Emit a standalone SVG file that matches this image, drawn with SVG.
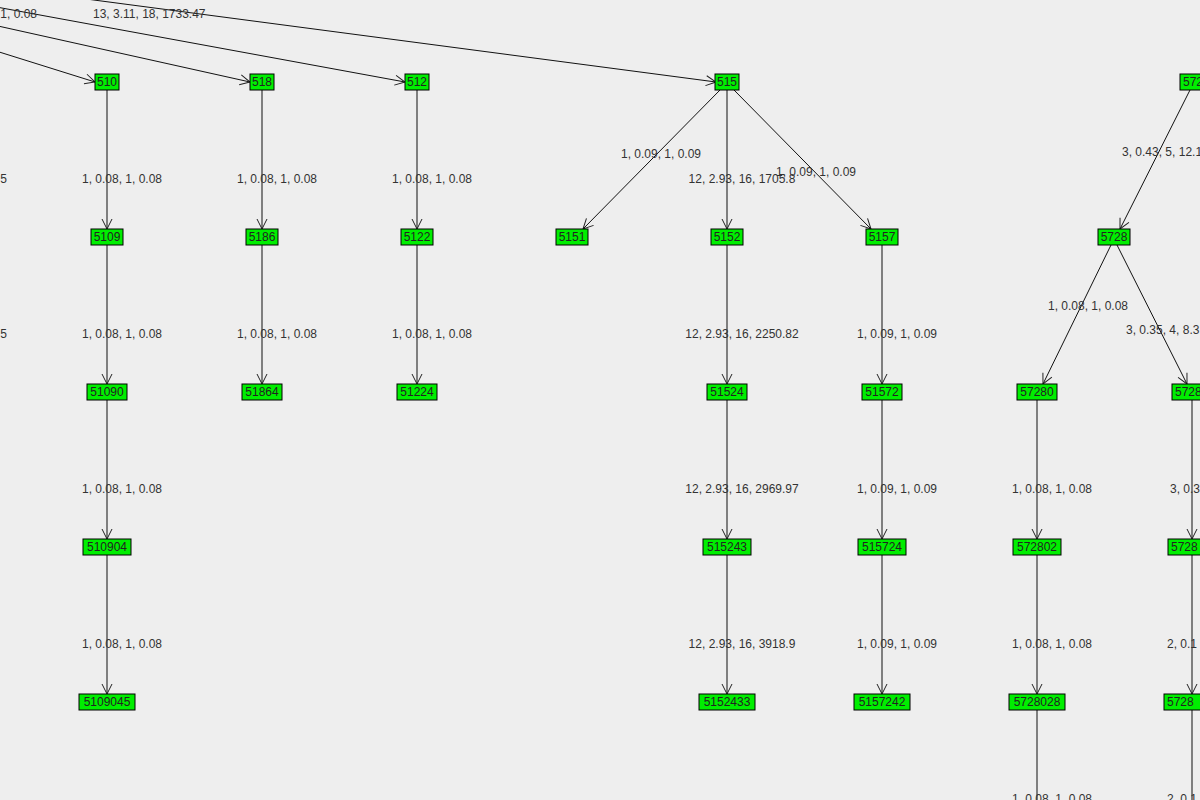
<svg xmlns="http://www.w3.org/2000/svg" width="1200" height="800" viewBox="0 0 1200 800">
<style>
.n rect{fill:#00ee00;stroke:#000;stroke-width:1}
.n text{font-family:"Liberation Sans",Arial,sans-serif;font-size:12px;fill:#222;text-anchor:middle}
.e line{stroke:#111;stroke-width:1;marker-end:url(#a)}
.l{font-family:"Liberation Sans",Arial,sans-serif;font-size:12px;fill:#333}
.c{text-anchor:middle}
</style>
<defs><marker id="a" markerUnits="userSpaceOnUse" markerWidth="14" markerHeight="14" refX="11" refY="6" orient="auto" overflow="visible"><path d="M1,1 L11,6 L1,11" fill="none" stroke="#222" stroke-width="1"/></marker></defs>
<rect width="1200" height="800" fill="#eeeeee"/>
<g id="connectors" class="e">
<line x1="-20" y1="46" x2="95" y2="82"/>
<line x1="-20" y1="22" x2="250" y2="82"/>
<line x1="-20" y1="4" x2="405" y2="82"/>
<line x1="-20" y1="-15" x2="716" y2="82"/>
<line x1="107" y1="90" x2="107" y2="229"/>
<line x1="107" y1="245" x2="107" y2="384"/>
<line x1="107" y1="400" x2="107" y2="539"/>
<line x1="107" y1="555" x2="107" y2="694"/>
<line x1="262" y1="90" x2="262" y2="229"/>
<line x1="262" y1="245" x2="262" y2="384"/>
<line x1="417" y1="90" x2="417" y2="229"/>
<line x1="417" y1="245" x2="417" y2="384"/>
<line x1="720" y1="90" x2="583" y2="229"/>
<line x1="727" y1="90" x2="727" y2="229"/>
<line x1="734" y1="90" x2="871" y2="229"/>
<line x1="727" y1="245" x2="727" y2="384"/>
<line x1="727" y1="400" x2="727" y2="539"/>
<line x1="727" y1="555" x2="727" y2="694"/>
<line x1="882" y1="245" x2="882" y2="384"/>
<line x1="882" y1="400" x2="882" y2="539"/>
<line x1="882" y1="555" x2="882" y2="694"/>
<line x1="1190" y1="90" x2="1120" y2="229"/>
<line x1="1111" y1="245" x2="1043" y2="384"/>
<line x1="1117" y1="245" x2="1187" y2="384"/>
<line x1="1037" y1="400" x2="1037" y2="539"/>
<line x1="1037" y1="555" x2="1037" y2="694"/>
<line x1="1037" y1="710" x2="1037" y2="849"/>
<line x1="1192" y1="400" x2="1192" y2="539"/>
<line x1="1192" y1="555" x2="1192" y2="694"/>
<line x1="1192" y1="710" x2="1192" y2="849"/>
</g>
<g id="labels" class="l">
<text x="37" y="18" text-anchor="end">1, 0.08</text>
<text x="93" y="18">13, 3.11, 18, 1733.47</text>
<text x="7" y="183" text-anchor="end">5</text>
<text x="7" y="338" text-anchor="end">5</text>
<text class="c" x="122" y="183">1, 0.08, 1, 0.08</text>
<text class="c" x="122" y="338">1, 0.08, 1, 0.08</text>
<text class="c" x="122" y="493">1, 0.08, 1, 0.08</text>
<text class="c" x="122" y="648">1, 0.08, 1, 0.08</text>
<text class="c" x="277" y="183">1, 0.08, 1, 0.08</text>
<text class="c" x="277" y="338">1, 0.08, 1, 0.08</text>
<text class="c" x="432" y="183">1, 0.08, 1, 0.08</text>
<text class="c" x="432" y="338">1, 0.08, 1, 0.08</text>
<text class="c" x="661" y="158">1, 0.09, 1, 0.09</text>
<text class="c" x="742" y="183">12, 2.93, 16, 1705.8</text>
<text class="c" x="816" y="176">1, 0.09, 1, 0.09</text>
<text class="c" x="742" y="338">12, 2.93, 16, 2250.82</text>
<text class="c" x="742" y="493">12, 2.93, 16, 2969.97</text>
<text class="c" x="742" y="648">12, 2.93, 16, 3918.9</text>
<text class="c" x="897" y="338">1, 0.09, 1, 0.09</text>
<text class="c" x="897" y="493">1, 0.09, 1, 0.09</text>
<text class="c" x="897" y="648">1, 0.09, 1, 0.09</text>
<text class="c" x="1052" y="493">1, 0.08, 1, 0.08</text>
<text class="c" x="1052" y="648">1, 0.08, 1, 0.08</text>
<text class="c" x="1052" y="803">1, 0.08, 1, 0.08</text>
<text class="c" x="1088" y="310">1, 0.08, 1, 0.08</text>
<text x="1122" y="156">3, 0.43, 5, 12.1</text>
<text x="1126" y="334">3, 0.35, 4, 8.3</text>
<text x="1170" y="493">3, 0.3</text>
<text x="1167" y="648">2, 0.1</text>
<text x="1167" y="803">2, 0.1</text>
</g>
<g id="n510" class="n"><rect x="95" y="74" width="24" height="16"/><text x="107" y="86">510</text></g>
<g id="n518" class="n"><rect x="250" y="74" width="24" height="16"/><text x="262" y="86">518</text></g>
<g id="n512" class="n"><rect x="405" y="74" width="24" height="16"/><text x="417" y="86">512</text></g>
<g id="n515" class="n"><rect x="715" y="74" width="24" height="16"/><text x="727" y="86">515</text></g>
<g id="n572" class="n"><rect x="1180" y="74" width="32" height="16"/><text x="1183" y="86" style="text-anchor:start">572</text></g>
<g id="n5109" class="n"><rect x="91" y="229" width="32" height="16"/><text x="107" y="241">5109</text></g>
<g id="n5186" class="n"><rect x="246" y="229" width="32" height="16"/><text x="262" y="241">5186</text></g>
<g id="n5122" class="n"><rect x="401" y="229" width="32" height="16"/><text x="417" y="241">5122</text></g>
<g id="n5151" class="n"><rect x="556" y="229" width="32" height="16"/><text x="572" y="241">5151</text></g>
<g id="n5152" class="n"><rect x="711" y="229" width="32" height="16"/><text x="727" y="241">5152</text></g>
<g id="n5157" class="n"><rect x="866" y="229" width="32" height="16"/><text x="882" y="241">5157</text></g>
<g id="n5728" class="n"><rect x="1098" y="229" width="32" height="16"/><text x="1114" y="241">5728</text></g>
<g id="n51090" class="n"><rect x="87" y="384" width="40" height="16"/><text x="107" y="396">51090</text></g>
<g id="n51864" class="n"><rect x="242" y="384" width="40" height="16"/><text x="262" y="396">51864</text></g>
<g id="n51224" class="n"><rect x="397" y="384" width="40" height="16"/><text x="417" y="396">51224</text></g>
<g id="n51524" class="n"><rect x="707" y="384" width="40" height="16"/><text x="727" y="396">51524</text></g>
<g id="n51572" class="n"><rect x="862" y="384" width="40" height="16"/><text x="882" y="396">51572</text></g>
<g id="n57280" class="n"><rect x="1017" y="384" width="40" height="16"/><text x="1037" y="396">57280</text></g>
<g id="n5728b" class="n"><rect x="1172" y="384" width="40" height="16"/><text x="1175" y="396" style="text-anchor:start">5728</text></g>
<g id="n510904" class="n"><rect x="83" y="539" width="48" height="16"/><text x="107" y="551">510904</text></g>
<g id="n515243" class="n"><rect x="703" y="539" width="48" height="16"/><text x="727" y="551">515243</text></g>
<g id="n515724" class="n"><rect x="858" y="539" width="48" height="16"/><text x="882" y="551">515724</text></g>
<g id="n572802" class="n"><rect x="1013" y="539" width="48" height="16"/><text x="1037" y="551">572802</text></g>
<g id="n5728c" class="n"><rect x="1168" y="539" width="48" height="16"/><text x="1171" y="551" style="text-anchor:start">5728</text></g>
<g id="n5109045" class="n"><rect x="79" y="694" width="56" height="16"/><text x="107" y="706">5109045</text></g>
<g id="n5152433" class="n"><rect x="699" y="694" width="56" height="16"/><text x="727" y="706">5152433</text></g>
<g id="n5157242" class="n"><rect x="854" y="694" width="56" height="16"/><text x="882" y="706">5157242</text></g>
<g id="n5728028" class="n"><rect x="1009" y="694" width="56" height="16"/><text x="1037" y="706">5728028</text></g>
<g id="n5728d" class="n"><rect x="1164" y="694" width="56" height="16"/><text x="1167" y="706" style="text-anchor:start">5728</text></g>
</svg>
